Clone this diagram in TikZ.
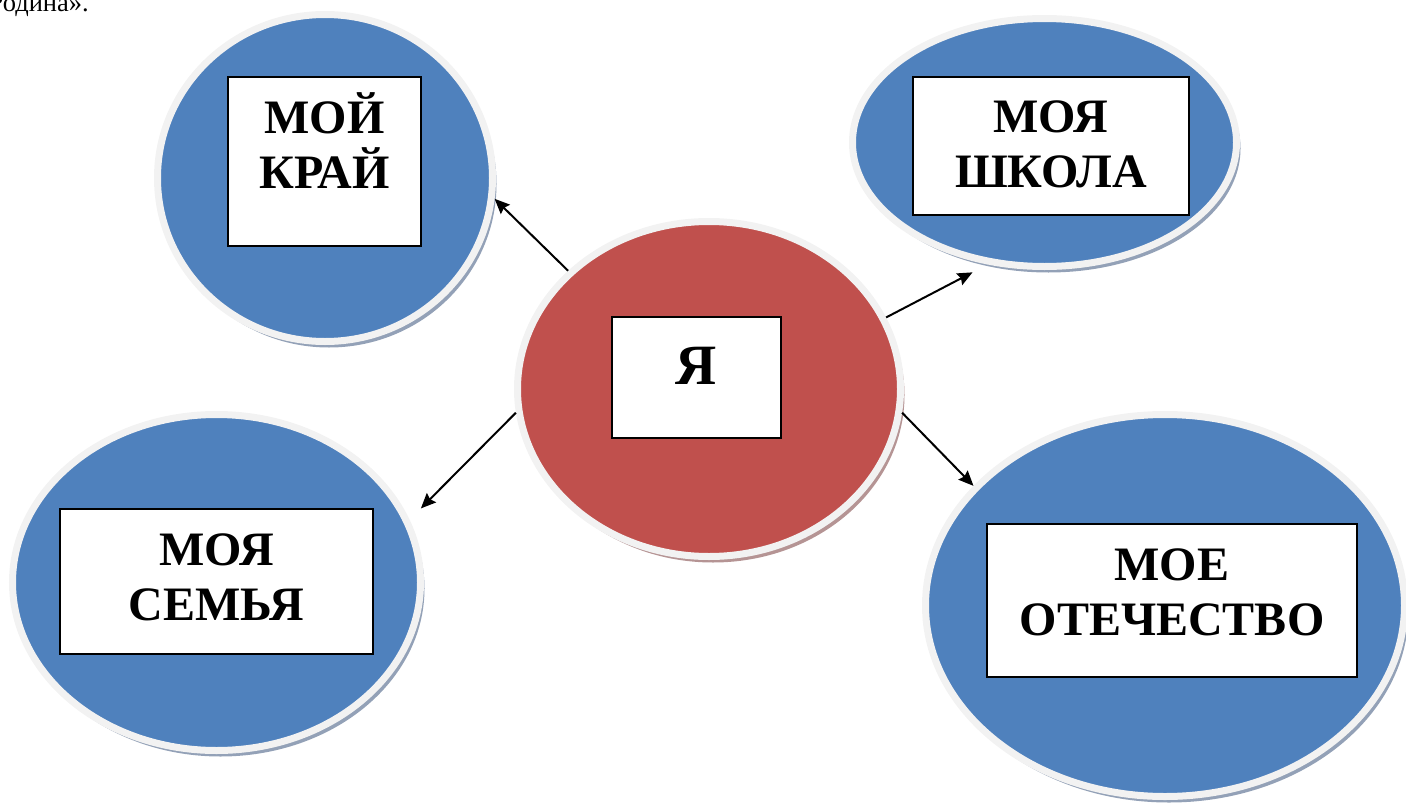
\documentclass[tikz,border=0pt]{standalone}
\usepackage{fontspec}
\setmainfont{Liberation Serif}
\usetikzlibrary{shapes.geometric,arrows.meta,shadows}
\definecolor{krugsin}{HTML}{4F81BD}
\definecolor{krugkr}{HTML}{C0504D}
\definecolor{obod}{HTML}{F2F2F2}
\definecolor{tensin}{HTML}{93A1B7}
\definecolor{tenkr}{HTML}{B59494}
\tikzset{
    krug/.style={ellipse, draw=obod, line width=7pt, inner sep=0pt},
    krugblue/.style={krug, fill=krugsin,
        drop shadow={shadow xshift=4pt, shadow yshift=-6pt, fill=tensin, opacity=1}},
    krugred/.style={krug, fill=krugkr,
        drop shadow={shadow xshift=4pt, shadow yshift=-6pt, fill=tenkr, opacity=1}},
    ramka/.style={draw=black, line width=1.5pt, fill=white, inner sep=0pt},
    nadpis/.style={anchor=base, align=center, inner sep=0pt,
        font=\bfseries\fontsize{48}{55.5}\selectfont},
    strelka/.style={line width=2pt, -{Stealth[length=15pt, width=13pt, inset=2pt]}}
}
\begin{document}
\begin{tikzpicture}[x=1pt, y=-1pt]
    \useasboundingbox (0,0) rectangle (1406,803);
    % kusok teksta sverhu
    \node[anchor=base west, inner sep=0pt, font=\fontsize{26.5}{30}\selectfont] (rodina) at (-11.5,11) {Родина».};

    % krugi
    \foreach \n/\cx/\cy/\w/\h in
    {kray/325/178/335/327,
        shkola/1044.5/142.5/384/248,
        semya/216.5/582.5/408/336,
        otech/1165/605.5/479/382}
    {
        \node[krugblue, minimum width=\w pt, minimum height=\h pt] (\n) at (\cx,\cy) {};
    };
    \node[krugred, minimum width=383pt, minimum height=335pt] (ya) at (709,389) {};

    % ramki
    \foreach \n/\cx/\cy/\w/\h in
    {kray/324.5/161.5/193/169,
        shkola/1051/146/276/138,
        ya/696.5/377.5/169/121,
        semya/216.5/581.5/313/145,
        otech/1172/600.5/370/153}
    {
        \node[ramka, minimum width=\w pt, minimum height=\h pt] (\n r) at (\cx,\cy) {};
    };

    % nadpisi (base = nizhnyaya stroka)
    \foreach \n/\x/\y/\t in
    {kray/324.5/188.5/{МОЙ\\КРАЙ},
        shkola/1051/187.5/{МОЯ\\ШКОЛА},
        semya/216.5/620.5/{МОЯ\\СЕМЬЯ},
        otech/1172/635.5/{МОЕ\\ОТЕЧЕСТВО}}
    {
        \node[nadpis] (\n t) at (\x,\y) {\t};
    };
    \node[nadpis, font=\bfseries\fontsize{57}{60}\selectfont] (yat) at (696.5,384) {Я};

    % strelki
    \draw[strelka] (ya.140) -- (kray.353);
    \draw[strelka, shorten >=17pt] (ya.22) -- (shkola.245);
    \draw[strelka, shorten >=16pt] (ya.187) -- (semya.18);
    \draw[strelka] (ya.353) -- (otech.148);
\end{tikzpicture}
\end{document}
